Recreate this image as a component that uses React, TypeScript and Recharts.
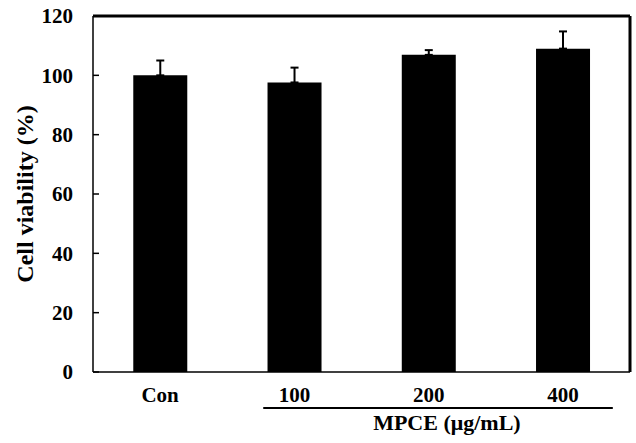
import { BarChart, Bar, XAxis, YAxis, ErrorBar, Label } from "recharts";

// groups on the x axis
const groups = ["Con", "100", "200", "400"];
// mean cell viability (%)
const viability = [100, 97.6, 106.9, 109];
// upper error (SD)
const errors = [5, 5, 1.6, 5.8];
const yTicks = [0, 20, 40, 60, 80, 100, 120];

const data = groups.map((g, i) => ({
  name: g,
  value: viability[i],
  err: [0, errors[i]],
}));

const TOP = 16;
const FONT = "'Liberation Serif', 'Times New Roman', serif";
const textStyle = { fontFamily: FONT, fontWeight: 700, fontSize: 21, fill: "#000" };

/* ===== underline + dose label, plus top/right border of the box ===== */
function DoseLabel(props: any) {
  const vb = props.viewBox || {};
  const x = vb.x ?? 0;
  const y = vb.y ?? 0;
  const w = vb.width ?? 0;
  return (
    <g>
      <path d={`M${x + w},${TOP}V${y}`} stroke="#000" strokeWidth={3} fill="none" />
      <path d={`M${x},${TOP}H${x + w}`} stroke="#000" strokeWidth={3} fill="none" />
      <line
        x1={x + w * 0.317}
        x2={x + w * 0.968}
        y1={y + 36}
        y2={y + 36}
        stroke="#000"
        strokeWidth={2}
      />
      <text
        x={x + w * 0.659}
        y={y + 58}
        textAnchor="middle"
        style={{ ...textStyle, fontSize: 22 }}
      >
        MPCE (μg/mL)
      </text>
    </g>
  );
}

function YTitle(props: any) {
  const vb = props.viewBox || {};
  const cy = (vb.y ?? 0) + (vb.height ?? 0) / 2;
  const cx = 33;
  return (
    <text
      x={cx}
      y={cy}
      textAnchor="middle"
      transform={`rotate(-90, ${cx}, ${cy})`}
      style={{ ...textStyle, fontSize: 24 }}
    >
      Cell viability (%)
    </text>
  );
}

export default function App() {
  return (
    <div style={{ position: "absolute", left: 0, top: 0, background: "#fff" }}>
      <BarChart
        width={636}
        height={443}
        data={data}
        margin={{ top: TOP, right: 6, bottom: 0, left: 0 }}
        barCategoryGap="30%"
      >
        <XAxis
          dataKey="name"
          height={71}
          tickLine={false}
          tickSize={0}
          tickMargin={15}
          axisLine={{ stroke: "#000", strokeWidth: 1.5 }}
          tick={textStyle}
          interval={0}
        >
          <Label content={<DoseLabel />} />
        </XAxis>
        <YAxis
          width={93}
          domain={[0, 120]}
          ticks={yTicks}
          interval={0}
          tickSize={-6}
          tickMargin={26}
          tickLine={{ stroke: "#000", strokeWidth: 1.5 }}
          axisLine={{ stroke: "#000", strokeWidth: 1.5 }}
          tick={textStyle}
        >
          <Label content={<YTitle />} />
        </YAxis>
        <Bar dataKey="value" fill="#000" isAnimationActive={false}>
          <ErrorBar
            dataKey="err"
            direction="y"
            width={4}
            stroke="#000"
            strokeWidth={2}
            isAnimationActive={false}
          />
        </Bar>
      </BarChart>
    </div>
  );
}
